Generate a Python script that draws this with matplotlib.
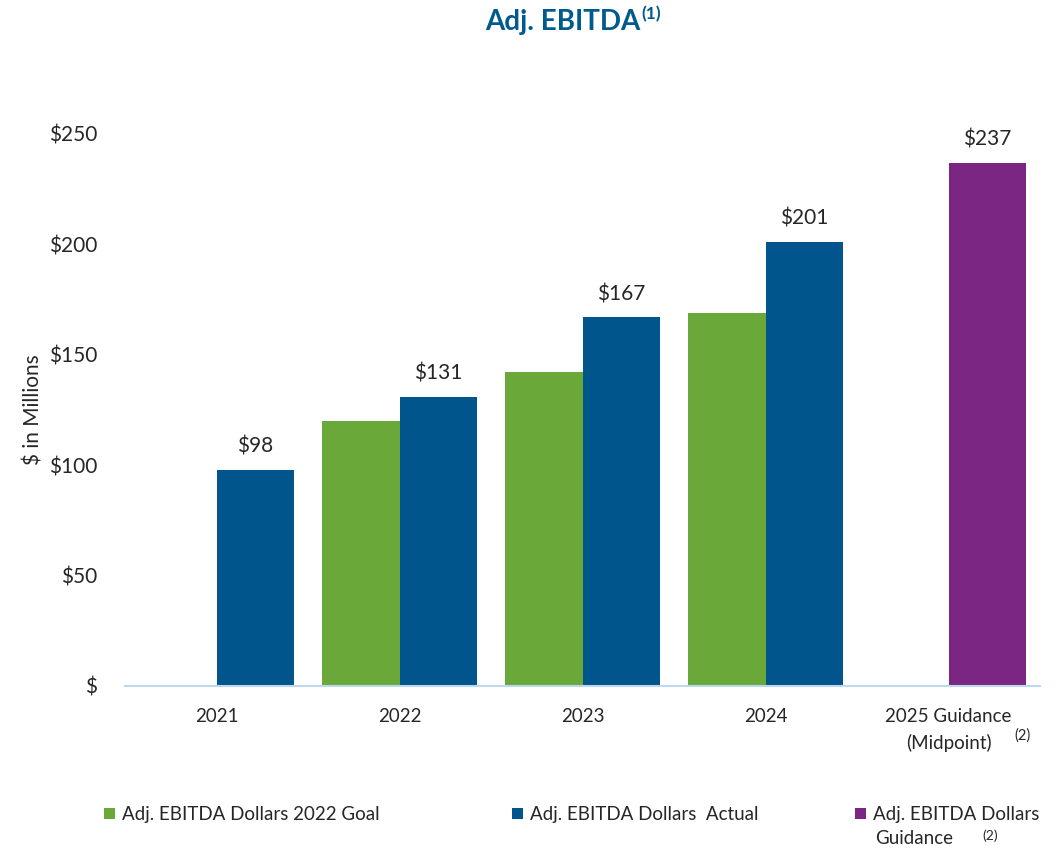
import matplotlib
matplotlib.use("Agg")
import matplotlib.pyplot as plt
import numpy as np

categories = ["2021", "2022", "2023", "2024", "2025 Guidance\n(Midpoint)"]
goal = [np.nan, 120, 142, 169, np.nan]
actual = [98, 131, 167, 201, np.nan]
guidance = [np.nan, np.nan, np.nan, np.nan, 237]
yticks = [0, 50, 100, 150, 200, 250]
ytick_labels = ["$", "$50", "$100", "$150", "$200", "$250"]

GREEN = "#6AA839"
BLUE = "#00568C"
PURPLE = "#7A2682"
TXT = "#262626"
FONT = ["Lato", "DejaVu Sans"]
plt.rcParams["font.family"] = FONT

fig = plt.figure(figsize=(10.63, 8.5), dpi=100)
ax = fig.add_axes([125/1063, 1-686/850, (1040-125)/1063, (686-134)/850])

x = np.arange(len(categories))
w = 0.426
b_goal = ax.bar(x - w/2, goal, w, color=GREEN, label="Adj. EBITDA Dollars 2022 Goal")
b_act = ax.bar(x + w/2, actual, w, color=BLUE, label="Adj. EBITDA Dollars  Actual")
b_gui = ax.bar(x + w/2, guidance, w, color=PURPLE, label="Adj. EBITDA Dollars")

for xi, v in zip(x, actual):
    if not np.isnan(v):
        ax.text(xi + w/2, v + 6, f"${v:.0f}", ha="center", va="bottom", fontsize=15, color=TXT)
for xi, v in zip(x, guidance):
    if not np.isnan(v):
        ax.text(xi + w/2, v + 6, f"${v:.0f}", ha="center", va="bottom", fontsize=15, color=TXT, clip_on=False)

ax.set_xlim(-0.5, 4.5)
ax.set_ylim(0, 250)
ax.set_yticks(yticks)
ax.set_yticklabels(ytick_labels, fontsize=15, color=TXT)
ax.set_xticks(x)
ax.set_xticklabels(categories, fontsize=13.5, color=TXT, linespacing=1.55)
ax.tick_params(axis="both", length=0)
ax.tick_params(axis="y", pad=20)
ax.tick_params(axis="x", pad=16)
for s in ["top", "right", "left"]:
    ax.spines[s].set_visible(False)
ax.spines["bottom"].set_color("#BDD7EE")
ax.spines["bottom"].set_linewidth(1.5)
ax.set_ylabel("$ in Millions", fontsize=15, color=TXT)
ax.yaxis.set_label_coords((43 - 125) / 915, 0.5)

# superscript on last x tick
fig.text(1014/1063, 1-736/850, "(2)", fontsize=10.5, color=TXT, ha="left", va="center")

# title
fig.text(640/1063, 1-22/850, "Adj. EBITDA", fontsize=20, fontweight="bold", color="#005A8E", ha="right", va="center")
fig.text(641/1063, 1-14/850, "(1)", fontsize=12.5, fontweight="bold", color="#005A8E", ha="left", va="center")

# legends
def leg(handle, label, xpos, ypos):
    lg = fig.legend([handle], [label], loc="upper left", bbox_to_anchor=(xpos/1063, 1-ypos/850),
                    frameon=False, fontsize=13.5, handlelength=0.55, handleheight=0.55,
                    handletextpad=0.4, borderpad=0, labelcolor=TXT)
    return lg

leg(b_goal, "Adj. EBITDA Dollars 2022 Goal", 95, 797)
leg(b_act, "Adj. EBITDA Dollars  Actual", 503, 797)
leg(b_gui, "Adj. EBITDA Dollars", 846, 797)
fig.text(875/1063, 1-838/850, "Guidance", fontsize=13.5, color=TXT, ha="left", va="center")
fig.text(982/1063, 1-836/850, "(2)", fontsize=10, color=TXT, ha="left", va="center")

fig.savefig("out.png", dpi=100)
